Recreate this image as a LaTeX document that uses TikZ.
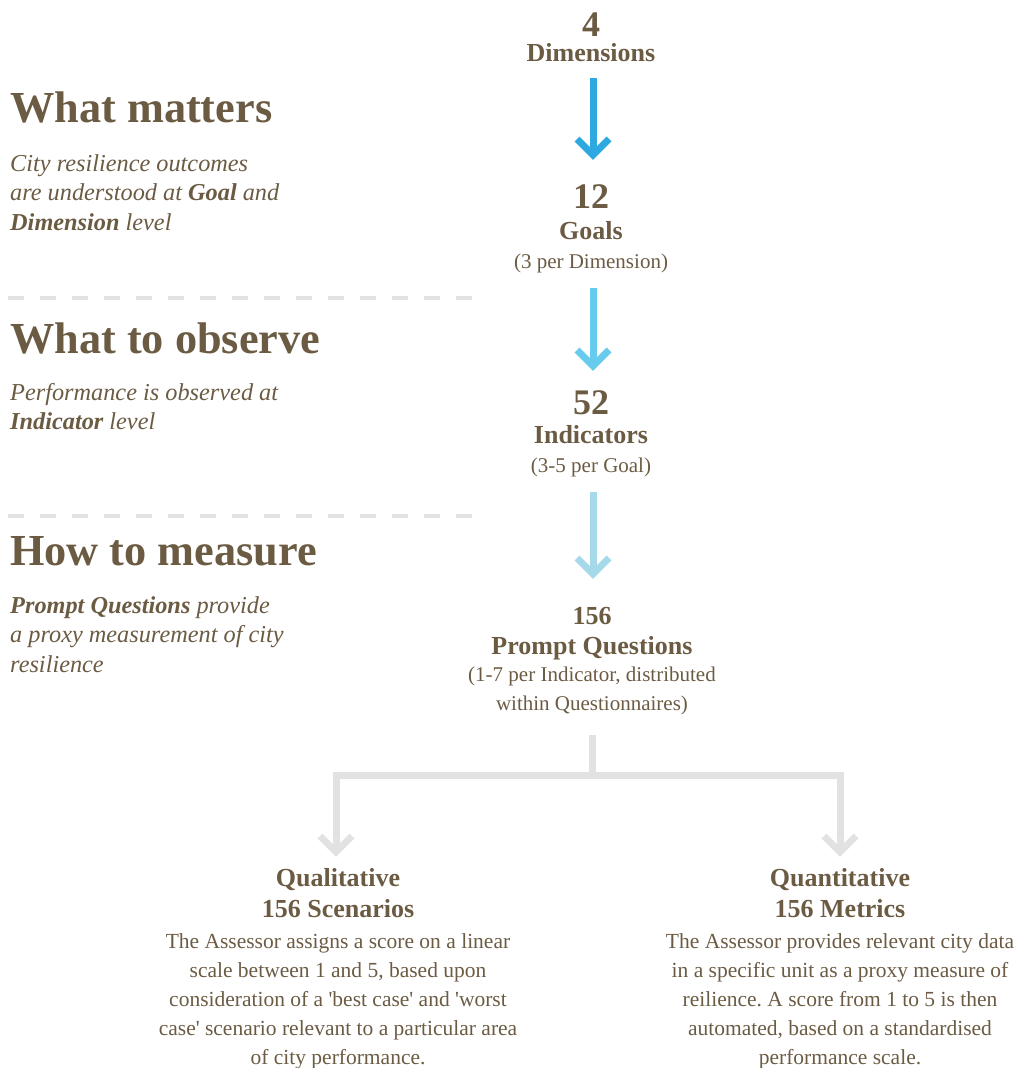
\documentclass[tikz,border=0pt]{standalone}
\usepackage{fontspec}
\setmainfont{Liberation Serif}
\frenchspacing
\definecolor{ink}{HTML}{6B5B43}
\definecolor{blueA}{HTML}{2DA8E0}
\definecolor{blueB}{HTML}{66CBEC}
\definecolor{blueC}{HTML}{A6DAEA}
\definecolor{rule}{HTML}{E3E2E2}
\newcommand{\sq}{\textquotesingle}
\begin{document}
\begin{tikzpicture}[x=1pt,y=-1pt,
  every node/.style={text=ink, inner sep=0pt},
  bignum/.style={font=\bfseries\fontsize{36}{40}\selectfont, anchor=base},
  label/.style={font=\bfseries\fontsize{26}{31}\selectfont, anchor=base},
  paren/.style={font=\fontsize{21}{29}\selectfont, align=center},
  heading/.style={font=\bfseries\fontsize{44.3}{50}\selectfont, anchor=base west},
  desc/.style={font=\itshape\fontsize{24.3}{29.5}\selectfont, align=left, anchor=north west},
  body/.style={font=\fontsize{21.5}{29}\selectfont, align=center, anchor=north},
  sep/.style={draw=rule, line width=4pt, dash pattern=on 16pt off 16pt},
  shaft/.style={line width=7pt, line join=miter, miter limit=10},
]
\useasboundingbox (0,0) rectangle (1016,1068);

% section rules on the left
\coordinate (r1a) at (8,298);  \coordinate (r1b) at (472,298);
\coordinate (r2a) at (8,516);  \coordinate (r2b) at (472,516);
\draw[sep] (r1a) -- (r1b);
\draw[sep] (r2a) -- (r2b);

% left column: headings and explanations
\node[heading] (h1) at (10,122) {What matters};
\node[desc] (d1) at (10,154) {City resilience outcomes\\are understood at \textbf{Goal} and\\\textbf{Dimension} level};
\node[heading] (h2) at (10,353) {What to observe};
\node[desc] (d2) at (10,383) {Performance is observed at\\\textbf{Indicator} level};
\node[heading] (h3) at (10,565) {How to measure};
\node[desc] (d3) at (10,596) {\textbf{Prompt Questions} provide\\a proxy measurement of city\\resilience};

% central hierarchy
\node[bignum] (n4) at (591,36) {4};
\node[label] (dim) at (591,61) {Dimensions};
\node[bignum] (n12) at (591,208) {12};
\node[label] (goals) at (591,239) {Goals};
\node[paren, anchor=base] (goalsp) at (591,268) {(3 per Dimension)};
\node[bignum] (n52) at (591,414) {52};
\node[label] (ind) at (591,443) {Indicators};
\node[paren, anchor=base] (indp) at (591,472) {(3-5 per Goal)};
\node[label] (n156) at (592,624) {156};
\node[label] (pq) at (592,654) {Prompt Questions};
\node[paren, anchor=north] (pqp) at (592,667) {(1-7 per Indicator, distributed\\within Questionnaires)};

% arrows between levels
\coordinate (a1s) at (593,78);  \coordinate (a1e) at (593,155);
\coordinate (a2s) at (593,288); \coordinate (a2e) at (593,366);
\coordinate (a3s) at (593,492); \coordinate (a3e) at (593,574);
\draw[shaft, blueA] (a1s) -- (a1e);
\draw[shaft, blueA] ([shift={(-16,-16)}]a1e) -- (a1e) -- ([shift={(16,-16)}]a1e);
\draw[shaft, blueB] (a2s) -- (a2e);
\draw[shaft, blueB] ([shift={(-16,-16)}]a2e) -- (a2e) -- ([shift={(16,-16)}]a2e);
\draw[shaft, blueC] (a3s) -- (a3e);
\draw[shaft, blueC] ([shift={(-16,-16)}]a3e) -- (a3e) -- ([shift={(16,-16)}]a3e);

% split into the two scoring types
\coordinate (st) at (592,735);
\coordinate (sj) at (592,775);
\coordinate (ql) at (336,852);
\coordinate (qn) at (840,852);
\draw[shaft, rule] (st) -- (sj);
\draw[shaft, rule] (ql) |- (sj) -| (qn);
\draw[shaft, rule] ([shift={(-16,-16)}]ql) -- (ql) -- ([shift={(16,-16)}]ql);
\draw[shaft, rule] ([shift={(-16,-16)}]qn) -- (qn) -- ([shift={(16,-16)}]qn);

% qualitative branch
\node[label] (qlt) at (338,886) {Qualitative};
\node[label] (qls) at (338,917) {156 Scenarios};
\node[body] (qlb) at (338,933) {The Assessor assigns a score on a linear\\scale between 1 and 5, based upon\\consideration of a \sq best case\sq{} and \sq worst\\case\sq{} scenario relevant to a particular area\\of city performance.};

% quantitative branch
\node[label] (qnt) at (840,886) {Quantitative};
\node[label] (qns) at (840,917) {156 Metrics};
\node[body] (qnb) at (840,933) {The Assessor provides relevant city data\\in a specific unit as a proxy measure of\\reilience. A score from 1 to 5 is then\\automated, based on a standardised\\performance scale.};
\end{tikzpicture}
\end{document}
